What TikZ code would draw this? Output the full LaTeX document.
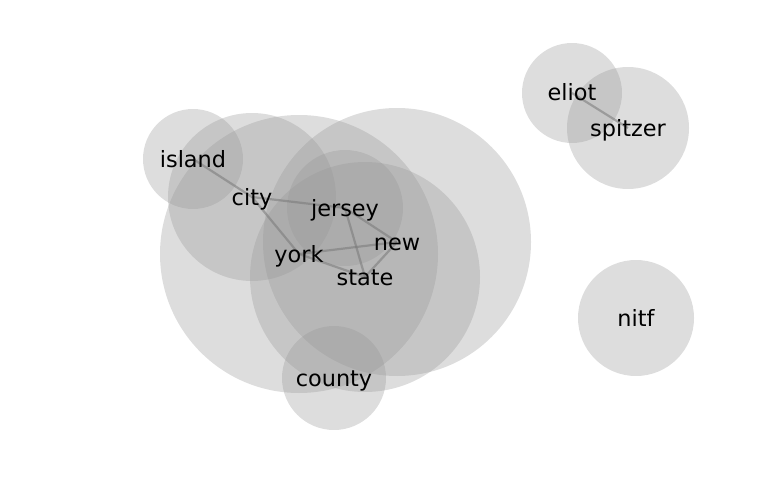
\documentclass[tikz,border=0pt]{standalone}
\usepackage{fontspec}
\setmainfont{DejaVu Sans}
\begin{document}
\begin{tikzpicture}[x=1pt,y=-1pt,
  blob/.style={fill={rgb,255:red,150;green,150;blue,150},fill opacity=0.32,draw=none},
  word/.style={font=\fontsize{22.4}{25}\selectfont,inner sep=0pt,text=black,anchor=base,yshift=-8pt},
  link/.style={draw={rgb,255:red,120;green,120;blue,120},line width=2.2pt,opacity=0.55}]
\useasboundingbox (0,0) rectangle (768,500);
% circles
\fill[blob] (193,159) circle (50);
\fill[blob] (252,197) circle (84);
\fill[blob] (299,254) circle (139);
\fill[blob] (345,208) circle (58);
\fill[blob] (397,242) circle (134);
\fill[blob] (365,277) circle (115);
\fill[blob] (334,378) circle (52);
\fill[blob] (572,93) circle (50);
\fill[blob] (628,128) circle (61);
\fill[blob] (636,318) circle (58);
% anchor coordinates
\coordinate (pisland) at (193,159);
\coordinate (pcity) at (252,197);
\coordinate (pjersey) at (345,208);
\coordinate (pnew) at (397,242);
\coordinate (pyork) at (299,254);
\coordinate (pstate) at (365,277);
\coordinate (pcounty) at (334,378);
\coordinate (peliot) at (572,93);
\coordinate (pspitzer) at (628,128);
\coordinate (pnitf) at (636,318);
% edges
\draw[link] (pisland) -- (pcity);
\draw[link] (pcity) -- (pjersey);
\draw[link] (pcity) -- (pyork);
\draw[link] (pjersey) -- (pnew);
\draw[link] (pjersey) -- (pstate);
\draw[link] (pyork) -- (pnew);
\draw[link] (pyork) -- (pstate);
\draw[link] (pnew) -- (pstate);
\draw[link] (peliot) -- (pspitzer);
% labels
\node[word] (island) at (pisland) {island};
\node[word] (city) at (pcity) {city};
\node[word] (jersey) at (pjersey) {jersey};
\node[word] (new) at (pnew) {new};
\node[word] (york) at (pyork) {york};
\node[word] (state) at (pstate) {state};
\node[word] (county) at (pcounty) {county};
\node[word] (eliot) at (peliot) {eliot};
\node[word] (spitzer) at (pspitzer) {spitzer};
\node[word] (nitf) at (pnitf) {nitf};
\end{tikzpicture}
\end{document}
